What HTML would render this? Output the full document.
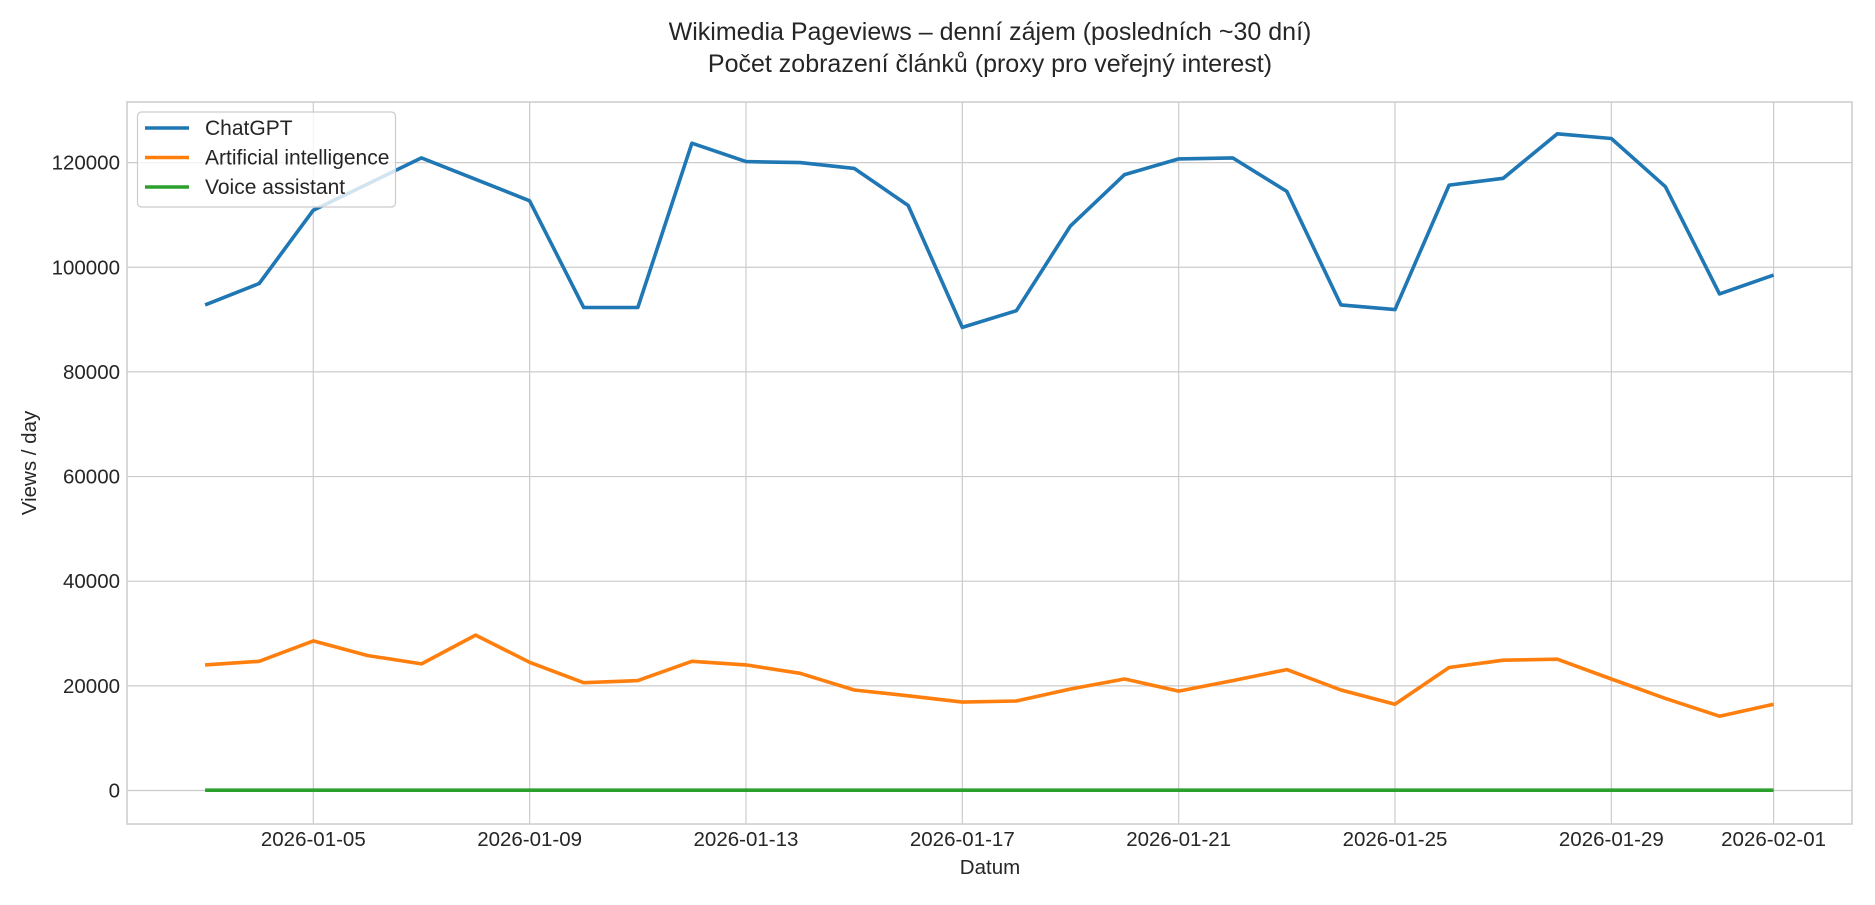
<!DOCTYPE html>
<html><head><meta charset="utf-8"><style>
body{margin:0;background:#fff;font-family:"Liberation Sans","Noto Sans CJK SC",sans-serif;}
svg text{font-family:"Liberation Sans","Noto Sans CJK SC",sans-serif;fill:#262626;}
</style></head><body>
<svg id="chart" width="1875" height="900" viewBox="0 0 1875 900" xmlns="http://www.w3.org/2000/svg">
<rect width="1875" height="900" fill="#fff"/>
<text x="990" y="40" font-size="25" text-anchor="middle">Wikimedia Pageviews – denní zájem (posledních ~30 dní)</text>
<text x="990" y="72" font-size="25" text-anchor="middle">Počet zobrazení článků (proxy pro veřejný interest)</text>
<g id="grid"></g>
<g id="series"></g>
<rect x="127" y="102" width="1725" height="722" fill="none" stroke="#cccccc" stroke-width="1.5"/>
<g id="ticks"></g>
<text transform="translate(36,463) rotate(-90)" font-size="20.5" text-anchor="middle">Views / day</text>
<text x="990" y="874" font-size="20.5" text-anchor="middle">Datum</text>
<g id="legend">
<rect x="137.5" y="112" width="258" height="95" rx="4" fill="#fff" fill-opacity="0.8" stroke="#cccccc" stroke-width="1.2"/>
</g>
</svg>
<script>
const dates=["2026-01-03","2026-01-04","2026-01-05","2026-01-06","2026-01-07","2026-01-08","2026-01-09","2026-01-10","2026-01-11","2026-01-12","2026-01-13","2026-01-14","2026-01-15","2026-01-16","2026-01-17","2026-01-18","2026-01-19","2026-01-20","2026-01-21","2026-01-22","2026-01-23","2026-01-24","2026-01-25","2026-01-26","2026-01-27","2026-01-28","2026-01-29","2026-01-30","2026-01-31","2026-02-01"];
const chatgpt=[92800,96900,110900,115900,120900,116800,112700,92300,92300,123700,120200,120000,118900,111800,88500,91700,107900,117700,120700,120900,114500,92800,91900,115700,117000,125500,124600,115400,94900,98500];
const ai=[24000,24700,28600,25800,24200,29700,24500,20600,21000,24700,24000,22400,19200,18100,16900,17100,19400,21300,19000,21000,23100,19200,16500,23500,24900,25100,21300,17600,14200,16500];
const voice=[50,50,50,50,50,50,50,50,50,50,50,50,50,50,50,50,50,50,50,50,50,50,50,50,50,50,50,50,50,50];
const yTicks=[0,20000,40000,60000,80000,100000,120000];
const xTicks=["2026-01-05","2026-01-09","2026-01-13","2026-01-17","2026-01-21","2026-01-25","2026-01-29","2026-02-01"];
const seriesNames=["ChatGPT","Artificial intelligence","Voice assistant"];
const colors=["#1f77b4","#ff7f0e","#2ca02c"];
const NS="http://www.w3.org/2000/svg";
const L=127,R=1852,T=102,B=824;
const d0=Date.parse("2026-01-05"),d1=Date.parse("2026-02-01");
function xs(d){return 313.3+(Date.parse(d)-d0)/(d1-d0)*(1773.6-313.3);}
function ys(v){return 790.5-v/120000*(790.5-162.6);}
function mk(tag,attrs,parent){const e=document.createElementNS(NS,tag);for(const k in attrs)e.setAttribute(k,attrs[k]);parent.appendChild(e);return e;}
const grid=document.getElementById('grid'),ticks=document.getElementById('ticks'),ser=document.getElementById('series'),leg=document.getElementById('legend');
yTicks.forEach(v=>{
  const y=ys(v);
  const g=mk('line',{x1:L,x2:R,y1:y,y2:y,stroke:'#cccccc','stroke-width':1.2},grid);
  
  
  const t=mk('text',{x:120,y:y+7,'font-size':20.5,'text-anchor':'end'},ticks);
  t.textContent=v;
  
  
});
xTicks.forEach(d=>{
  const x=xs(d);
  const g=mk('line',{x1:x,x2:x,y1:T,y2:B,stroke:'#cccccc','stroke-width':1.2},grid);
  
  
  const t=mk('text',{x:x,y:846,'font-size':20.5,'text-anchor':'middle'},ticks);
  t.textContent=d;
  
  
});
[chatgpt,ai,voice].forEach((arr,i)=>{
  const pts=arr.map((v,j)=>xs(dates[j]).toFixed(1)+','+ys(v).toFixed(1)).join(' ');
  const p=mk('polyline',{points:pts,fill:'none',stroke:colors[i],'stroke-width':3.6,'stroke-linejoin':'round'},ser);
  
  
});
seriesNames.forEach((n,i)=>{
  const y=128+i*29.5;
  const l=mk('line',{x1:145,x2:189,y1:y,y2:y,stroke:colors[i],'stroke-width':3.6},leg);
  
  
  const t=mk('text',{x:205,y:y+7,'font-size':21},leg);
  t.textContent=n;
  
  
});
</script>
</body></html>
